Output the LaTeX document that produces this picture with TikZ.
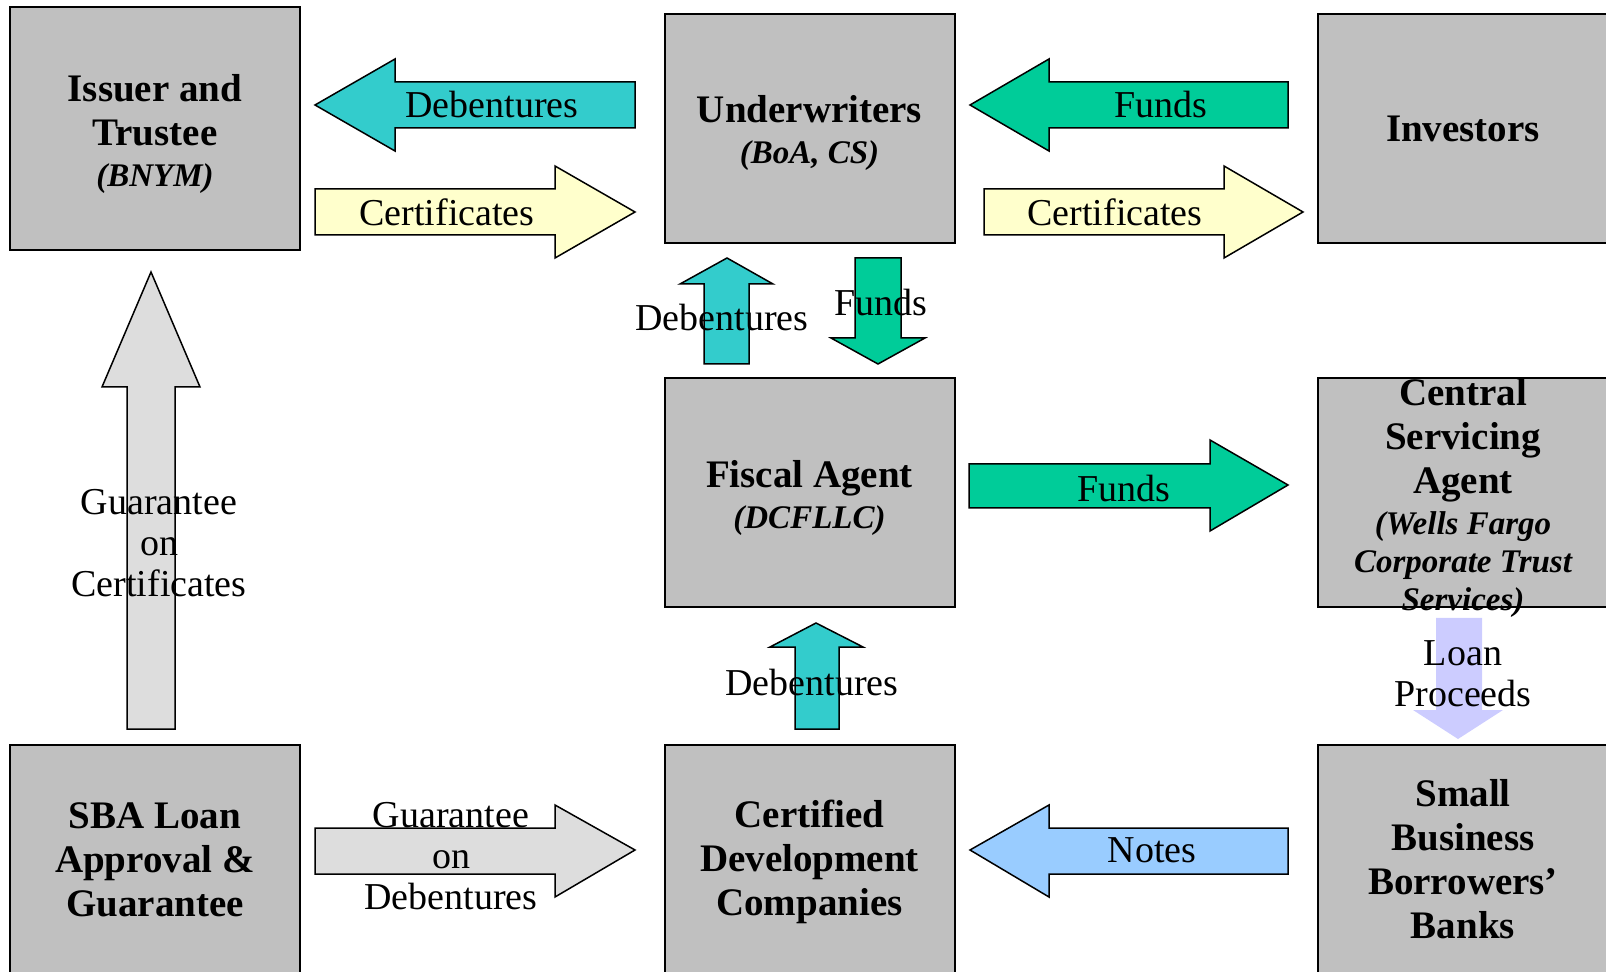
\documentclass[tikz,border=0pt]{standalone}
\usepackage{fontspec}
\setmainfont{Liberation Serif}
\definecolor{boxgray}{HTML}{C0C0C0}
\definecolor{tealA}{HTML}{33CCCC}
\definecolor{greenA}{HTML}{00CC99}
\definecolor{yellowA}{HTML}{FFFFCC}
\definecolor{grayA}{HTML}{DDDDDD}
\definecolor{blueA}{HTML}{99CCFF}
\definecolor{lavA}{HTML}{CCCCFF}
\newcommand\ttlfnt{\fontsize{19.5}{22}\selectfont\bfseries}
\newcommand\subfnt{\fontsize{16.5}{19}\selectfont\bfseries\itshape}
\newcommand\lblfnt{\fontsize{19}{20.5}\selectfont}
\tikzset{
  box/.style={draw=black, line width=1pt, fill=boxgray, minimum width=145pt, minimum height=114.5pt, inner sep=0pt},
  boxtext/.style={align=flush center, inner sep=0pt, text width=170pt, font=\ttlfnt, execute at begin node={\setlength\parskip{1.5pt}}},
  lbl/.style={align=center, inner sep=0pt, font=\lblfnt},
  blk/.style={draw=black, line width=0.75pt, line join=miter},
}
\begin{document}
\begin{tikzpicture}[x=0.5pt,y=-0.5pt]
\useasboundingbox (0,0) rectangle (1606,972);
% boxes
\node[box, minimum height=121.5pt] (issuer) at (155,128.5) {};
\node[box] (under) at (809.5,128.5) {};
\node[box] (invest) at (1463,128.5) {};
\node[box] (fiscal) at (809.5,493) {};
\node[box] (central) at (1463,493) {};
\node[box] (sba) at (155,859.5) {};
\node[box] (cdc) at (809.5,859.5) {};
\node[box] (small) at (1463,859.5) {};
% block arrows
\draw[blk, fill=tealA] (315,105) -- (395,59) -- (395,82) -- (635,82) -- (635,128) -- (395,128) -- (395,151) -- cycle;
\draw[blk, fill=yellowA] (315,189) -- (555,189) -- (555,166) -- (635,212) -- (555,258) -- (555,235) -- (315,235) -- cycle;
\draw[blk, fill=greenA] (970,105) -- (1049,59) -- (1049,82) -- (1288,82) -- (1288,128) -- (1049,128) -- (1049,151) -- cycle;
\draw[blk, fill=yellowA] (984,189) -- (1224,189) -- (1224,166) -- (1303,212) -- (1224,258) -- (1224,235) -- (984,235) -- cycle;
\draw[blk, fill=tealA] (727,258) -- (773,284) -- (749,284) -- (749,364) -- (704,364) -- (704,284) -- (680,284) -- cycle;
\draw[blk, fill=greenA] (855,258) -- (901,258) -- (901,338) -- (925,338) -- (878,364) -- (831,338) -- (855,338) -- cycle;
\draw[blk, fill=greenA] (969,464) -- (1210,464) -- (1210,440) -- (1288,485) -- (1210,531) -- (1210,508) -- (969,508) -- cycle;
\draw[blk, fill=grayA] (151,272) -- (200,387) -- (175,387) -- (175,729) -- (127,729) -- (127,387) -- (102,387) -- cycle;
\draw[blk, fill=tealA] (816,623) -- (863,647) -- (839,647) -- (839,729) -- (795,729) -- (795,647) -- (770,647) -- cycle;
\fill[lavA] (1436,618) -- (1482,618) -- (1482,710) -- (1503,710) -- (1458,739) -- (1413,710) -- (1436,710) -- cycle;
\draw[blk, fill=grayA] (315,828) -- (555,828) -- (555,805) -- (635,850) -- (555,897) -- (555,874) -- (315,874) -- cycle;
\draw[blk, fill=blueA] (970,850) -- (1049,805) -- (1049,828) -- (1288,828) -- (1288,874) -- (1049,874) -- (1049,897) -- cycle;
% box texts
\node[boxtext, yshift=-2.5pt] (issuer-t) at (issuer.center) {Issuer and\\Trustee\par\subfnt (BNYM)\par};
\node[boxtext, yshift=-2pt] (under-t) at (under.center) {Underwriters\par\subfnt (BoA, CS)\par};
\node[boxtext] (invest-t) at (invest.center) {Investors};
\node[boxtext, yshift=-2.5pt] (fiscal-t) at (fiscal.center) {Fiscal Agent\par\subfnt (DCFLLC)\par};
\node[boxtext, yshift=-2.5pt] (central-t) at (central.center) {Central\\Servicing\\Agent\par\subfnt (Wells Fargo\\Corporate Trust\\Services)\par};
\node[boxtext] (sba-t) at (sba.center) {SBA Loan\\Approval \&\\Guarantee};
\node[boxtext, yshift=-1pt] (cdc-t) at (cdc.center) {Certified\\Development\\Companies};
\node[boxtext] (small-t) at (small.center) {Small\\Business\\Borrowers’\\Banks};
% arrow labels
\node[lbl] (l1) at (492,105) {Debentures};
\node[lbl] (l2) at (447,212) {Certificates};
\node[lbl] (l3) at (1161,105) {Funds};
\node[lbl] (l4) at (1115,212) {Certificates};
\node[lbl] (l5) at (722,318) {Debentures};
\node[lbl] (l6) at (881,303) {Funds};
\node[lbl] (l7) at (1124,489) {Funds};
\node[lbl] (l8) at (159,543) {Guarantee\\on\\Certificates};
\node[lbl] (l9) at (812,683) {Debentures};
\node[lbl] (l10) at (1463,674) {Loan\\Proceeds};
\node[lbl] (l11) at (451,856) {Guarantee\\on\\Debentures};
\node[lbl] (l12) at (1152,850) {Notes};
\end{tikzpicture}
\end{document}
